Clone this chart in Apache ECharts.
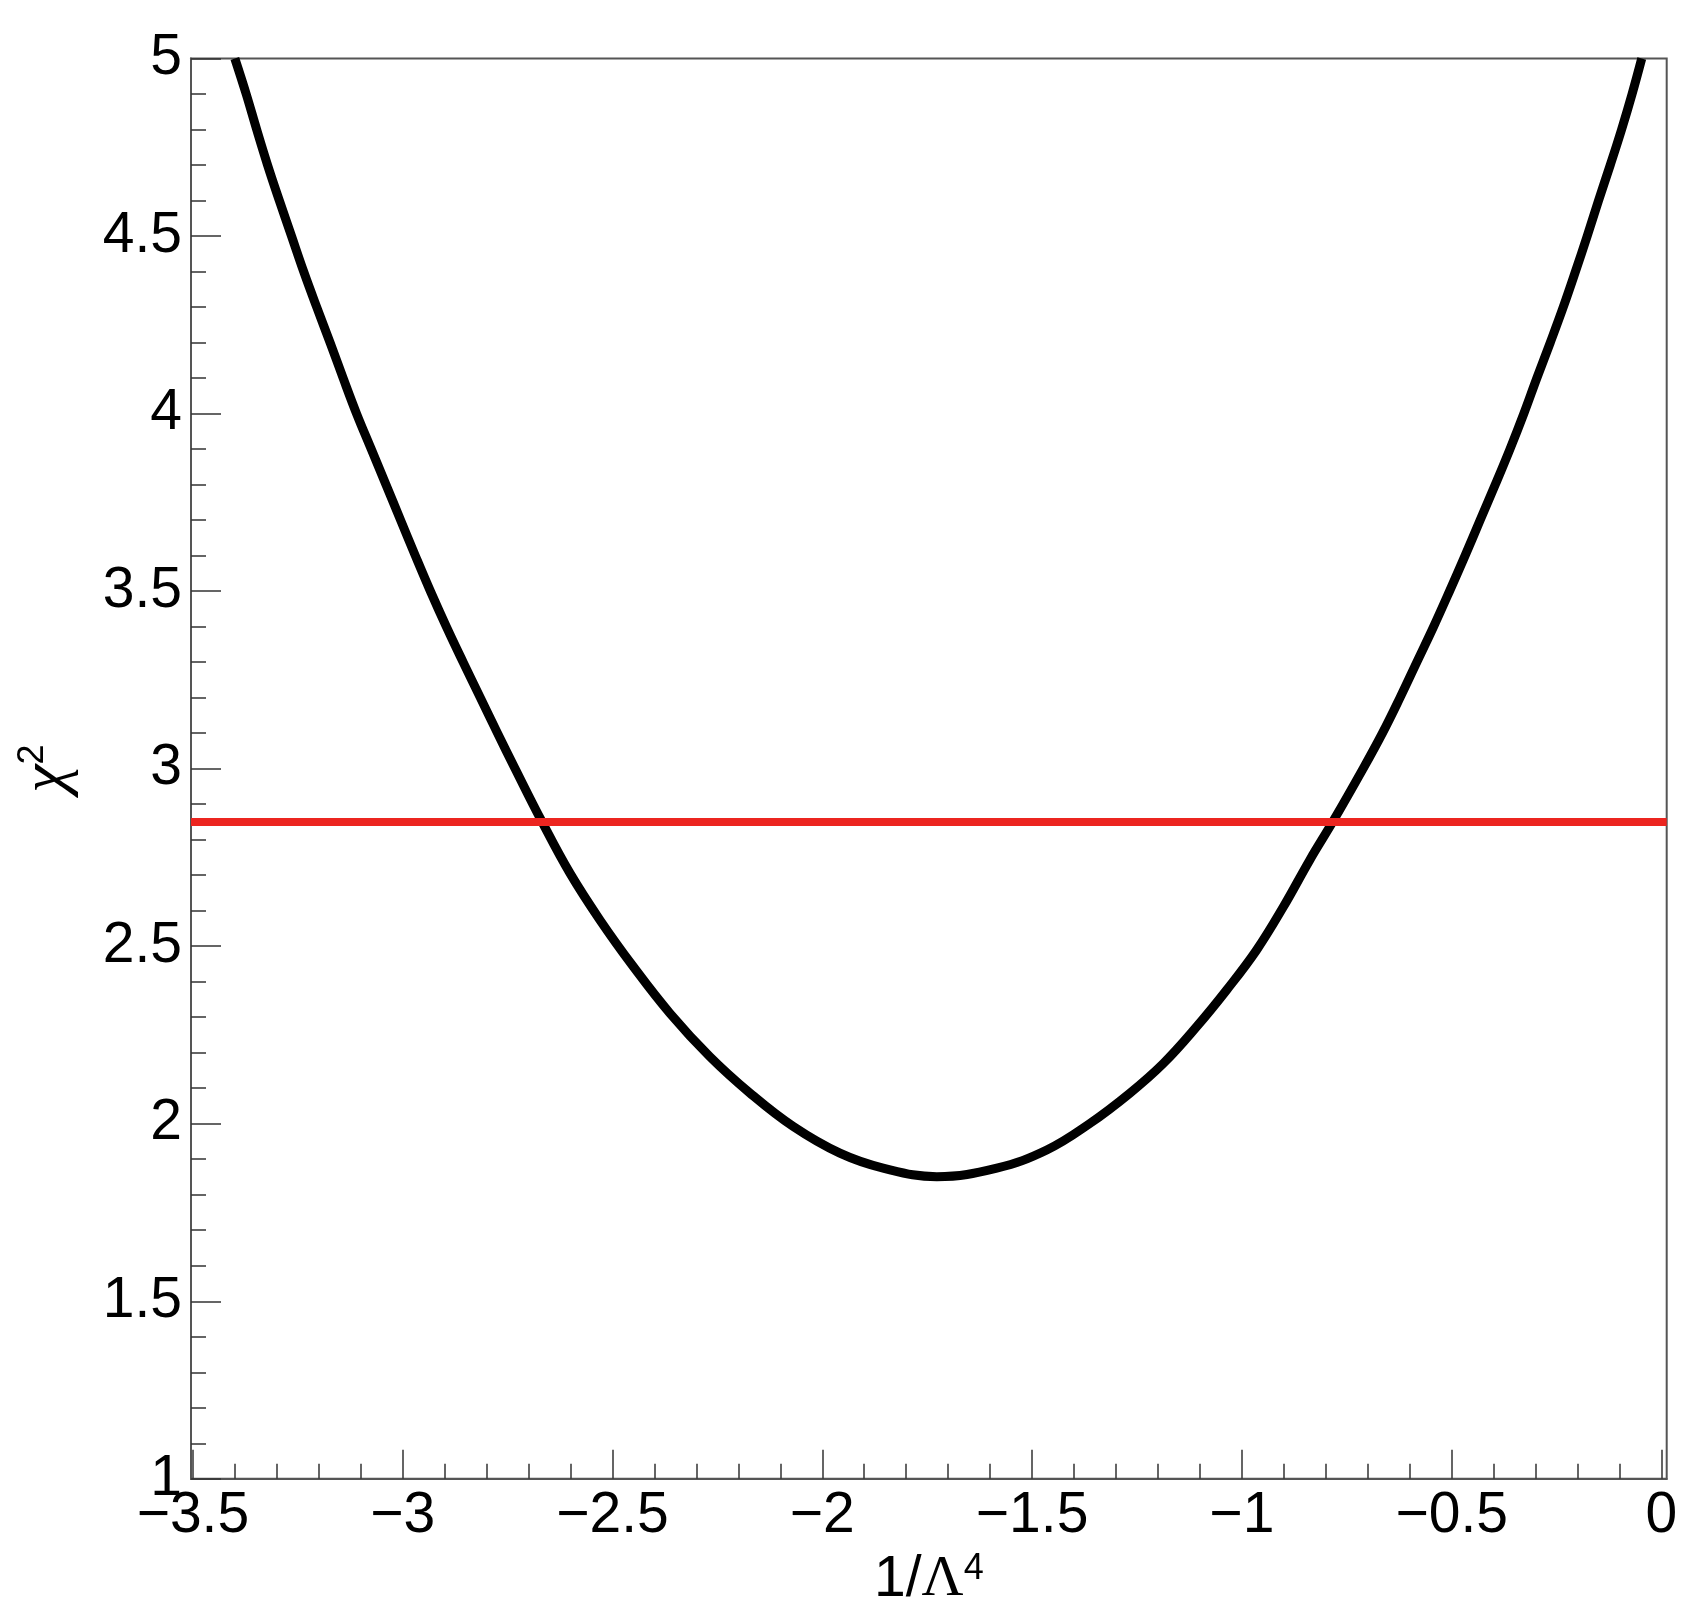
<!DOCTYPE html>
<html>
<head>
<meta charset="utf-8">
<title>chi2 scan</title>
<script src="https://cdn.jsdelivr.net/npm/echarts@6/dist/echarts.min.js"></script>
<style>
  html, body { margin: 0; padding: 0; background: #fff; }
  #chart { width: 1702px; height: 1614px; }
</style>
</head>
<body>
<div id="chart"></div>
<script>
// x range of the frame (1/Lambda^4)
var xMin = -3.5045, xMax = 0.0125;
var yMin = 1, yMax = 5;

// chi2 curve
var scanX = [-3.400, -3.373, -3.348, -3.322, -3.294, -3.265, -3.236, -3.205, -3.173, -3.142,
             -3.110, -3.075, -3.040, -3.005, -2.970, -2.934, -2.896, -2.856, -2.815, -2.774,
             -2.732, -2.669, -2.601, -2.530, -2.450, -2.363, -2.268, -2.172, -2.069, -1.958,
             -1.855, -1.727, -1.584, -1.465, -1.362, -1.267, -1.187, -1.108, -1.036, -0.965,
             -0.901, -0.838, -0.782, -0.711, -0.665, -0.623, -0.583, -0.543, -0.505, -0.468,
             -0.432, -0.396, -0.361, -0.328, -0.297, -0.265, -0.234, -0.205, -0.177, -0.150,
             -0.122, -0.095, -0.070, -0.047];
var scanChi2 = [5.0, 4.9, 4.8, 4.7, 4.6, 4.5, 4.4, 4.3, 4.2, 4.1,
                4.0, 3.9, 3.8, 3.7, 3.6, 3.5, 3.4, 3.3, 3.2, 3.1,
                3.0, 2.853, 2.705, 2.574, 2.442, 2.311, 2.189, 2.086, 1.992, 1.917,
                1.875, 1.851, 1.875, 1.926, 2.001, 2.086, 2.170, 2.273, 2.377, 2.489,
                2.611, 2.743, 2.853, 3.0, 3.1, 3.2, 3.3, 3.4, 3.5, 3.6,
                3.7, 3.8, 3.9, 4.0, 4.1, 4.2, 4.3, 4.4, 4.5, 4.6,
                4.7, 4.8, 4.9, 5.0];

// horizontal threshold
var clLevel = 2.85;

// tick positions
var xMajorTicks = [-3.5, -3, -2.5, -2, -1.5, -1, -0.5, 0];
var xMinorTicks = [-3.4, -3.3, -3.2, -3.1, -2.9, -2.8, -2.7, -2.6, -2.4, -2.3, -2.2, -2.1,
                   -1.9, -1.8, -1.7, -1.6, -1.4, -1.3, -1.2, -1.1, -0.9, -0.8, -0.7, -0.6,
                   -0.4, -0.3, -0.2, -0.1];

var chart = echarts.init(document.getElementById('chart'), null, {renderer: 'canvas'});

var sans = 'Liberation Sans, Arial, Helvetica, sans-serif';
var serif = 'Liberation Serif, Times New Roman, serif';
var frameColor = '#555';
var tickStyle = {color: '#333', width: 1.5};

function minusSign(v) {
    return String(v).replace('-', '\u2212');
}

var points = [];
for (var i = 0; i < scanX.length; i++) {
    points.push([scanX[i], scanChi2[i]]);
}

var option = {
    animation: false,
    backgroundColor: '#fff',
    grid: {
        left: 191, top: 58.5, right: 35.3, bottom: 135.2,
        show: true, borderColor: frameColor, borderWidth: 2,
        containLabel: false
    },
    xAxis: [
        {
            type: 'value', min: xMin, max: xMax, position: 'bottom',
            axisLine: {show: true, onZero: false, lineStyle: {color: frameColor, width: 2}},
            axisTick: {show: true, inside: true, length: 29, lineStyle: tickStyle, customValues: xMajorTicks},
            axisLabel: {
                customValues: xMajorTicks, formatter: minusSign,
                fontFamily: sans, fontSize: 57, color: '#000', margin: 9
            },
            splitLine: {show: false},
            name: '{t|1/}{g|\u039b}{s|4}',
            nameLocation: 'middle', nameGap: 72,
            nameTextStyle: {
                rich: {
                    t: {fontFamily: sans, fontSize: 57, color: '#000', verticalAlign: 'bottom'},
                    g: {fontFamily: serif, fontSize: 58, color: '#000', verticalAlign: 'bottom'},
                    s: {fontFamily: sans, fontSize: 36, color: '#000', verticalAlign: 'top'}
                }
            }
        },
        {
            type: 'value', min: xMin, max: xMax, position: 'bottom', gridIndex: 0,
            axisLine: {show: false, onZero: false},
            axisTick: {show: true, inside: true, length: 15, lineStyle: tickStyle, customValues: xMinorTicks},
            axisLabel: {show: false},
            splitLine: {show: false}
        }
    ],
    yAxis: {
        type: 'value', min: yMin, max: yMax, interval: 0.5, position: 'left',
        axisLine: {show: true, onZero: false, lineStyle: {color: frameColor, width: 2}},
        axisTick: {show: true, inside: true, length: 30, lineStyle: tickStyle},
        minorTick: {show: true, splitNumber: 5, length: 15, lineStyle: tickStyle},
        axisLabel: {fontFamily: sans, fontSize: 57, color: '#000', margin: 9},
        splitLine: {show: false},
        name: '{c|\u03c7}{s|2}',
        nameLocation: 'middle', nameRotate: 90, nameGap: 112,
        nameTextStyle: {
            rich: {
                c: {fontFamily: serif, fontSize: 64, fontStyle: 'italic', color: '#000', verticalAlign: 'bottom'},
                s: {fontFamily: sans, fontSize: 36, color: '#000', verticalAlign: 'top'}
            }
        }
    },
    series: [
        {
            name: 'chi2',
            type: 'line',
            xAxisIndex: 0,
            data: points,
            showSymbol: false,
            smooth: 0.4,
            clip: true,
            lineStyle: {color: '#000', width: 9, join: 'round'},
            z: 2,
            markLine: {
                silent: true,
                symbol: ['none', 'none'],
                label: {show: false},
                lineStyle: {color: '#ec2520', width: 8, type: 'solid'},
                data: [{yAxis: clLevel}],
                z: 5
            }
        }
    ]
};

chart.setOption(option);
</script>
</body>
</html>
